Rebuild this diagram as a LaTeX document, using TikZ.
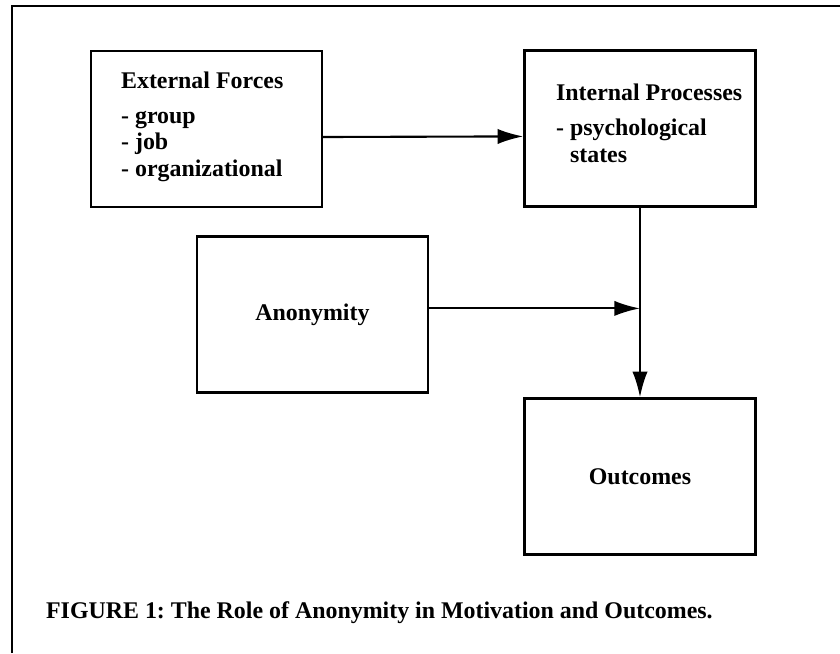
\documentclass[tikz,border=0pt]{standalone}
\usepackage{fontspec}
\setmainfont{Liberation Serif}
\usepackage{tikz}
\usetikzlibrary{positioning, calc, arrows.meta}

\begin{document}
\frenchspacing
\begin{tikzpicture}[
    line width=1.6pt,
    box/.style={draw, rectangle, minimum width=5.78cm, minimum height=3.9cm, align=center, font=\fontsize{17}{18.8}\selectfont\bfseries},
    txt/.style={inner sep=0pt, align=left, font=\fontsize{17}{18.8}\selectfont\bfseries},
    arr/.style={-{Latex[length=0.64cm, width=0.38cm]}, line width=1.5pt}
]
    \useasboundingbox (0,0) rectangle (21,-16.325);

    % Frame
    \draw (0.3,-16.325) |- (21,-0.15);

    % Boxes
    \node[box] (external) at (5.16, -3.225) {};
    \node[box] (internal) at (16.0, -3.21) {};
    \node[box] (anonymity) at (7.81, -7.86) {Anonymity};
    \node[box] (outcomes) at (16.0, -11.91) {Outcomes};

    % Box texts (base = last line)
    \node[txt, anchor=base west] (extHead) at (3.0, -2.2) {External Forces};
    \node[txt, anchor=base west] (extList) at (3.0, -4.4) {- group\\- job\\- organizational};
    \node[txt, anchor=base west] (intHead) at (13.875, -2.5) {Internal Processes};
    \node[txt, anchor=base west] (intList) at (13.875, -4.05) {- psychological\\\phantom{- }states};

    % Arrows
    \draw[arr] ([yshift=-0.2cm]external.east) -- ([yshift=-0.2cm]internal.west);
    \draw[arr] (internal.south) -- (outcomes.north);
    \coordinate (join) at ($(internal.south)!0.5!(outcomes.north) + (0,-0.15)$);
    \draw[arr] (anonymity.east |- join) -- (join);

    % Caption
    \node[txt, anchor=base west] (caption) at (1.125, -15.45) {FIGURE 1: The Role of Anonymity in Motivation and Outcomes.};
\end{tikzpicture}
\end{document}
